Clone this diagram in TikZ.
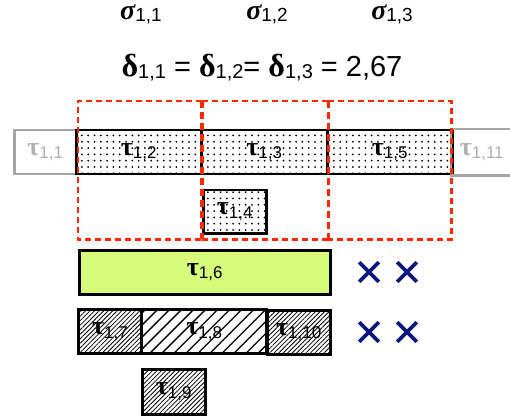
\documentclass[tikz,border=0pt]{standalone}
\usepackage{fontspec}
\setmainfont{Liberation Sans}
\newfontfamily\grk{Liberation Serif}
\usetikzlibrary{patterns.meta,shapes.misc}
\definecolor{winred}{RGB}{255,40,0}
\definecolor{lgreen}{RGB}{214,250,122}
\definecolor{navyx}{RGB}{12,24,124}
\definecolor{greyline}{RGB}{165,165,165}
\definecolor{greytext}{RGB}{175,175,175}
\newcommand\tsub[1]{\raisebox{-3.5pt}{\fontsize{17}{17}\selectfont #1}}
\newcommand\tlab[1]{{\grk\bfseries τ}\tsub{#1}}
\newcommand\slab[1]{{\fontsize{28}{28}\selectfont\grk\bfseries\itshape σ}\raisebox{-1.5pt}{\fontsize{19}{19}\selectfont #1}}
\newcommand\dlab[1]{{\fontsize{32}{32}\selectfont\grk\bfseries δ}\raisebox{-2pt}{\fontsize{20}{20}\selectfont #1}}
\tikzset{
  task/.style={draw=black, line width=2.5pt, anchor=north west, inner sep=0pt,
    minimum height=44pt, font=\fontsize{26}{26}\selectfont},
  greytask/.style={task, draw=greyline, text=greytext},
  openedge/.style={draw=greyline, line width=2.5pt},
  dottask/.style={task, pattern={Dots[distance=6.3pt, radius=1pt]}},
  finetask/.style={task, pattern={Lines[angle=45, distance=3.2pt, line width=0.8pt]}},
  widetask/.style={task, pattern={Lines[angle=45, distance=8.5pt, line width=1.3pt]}},
  greentask/.style={task, fill=lgreen},
  window/.style={anchor=north west, inner sep=0pt, minimum height=138pt},
  winline/.style={draw=winred, line width=2.2pt, dash pattern=on 6pt off 4pt},
  winmid/.style={draw=winred, line width=3.6pt, dash pattern=on 7pt off 4pt},
  crossmark/.style={cross out, draw=navyx, line width=3.6pt, minimum size=16pt, inner sep=0pt}
}
\begin{document}
\begin{tikzpicture}[x=1pt,y=-1pt]
\useasboundingbox (0,0) rectangle (510,419);
% headers
\node[anchor=base, inner sep=0pt] (s1) at (141,20) {\slab{1,1}};
\node[anchor=base, inner sep=0pt] (s2) at (267,20) {\slab{1,2}};
\node[anchor=base, inner sep=0pt] (s3) at (392,20) {\slab{1,3}};
\node[anchor=base, inner sep=0pt] (d) at (262,77) {\fontsize{29}{29}\selectfont\dlab{1,1} = \dlab{1,2}= \dlab{1,3} = 2,67};
% top row
\node[greytask, minimum width=62pt] (t11) at (13,129) {\tlab{1,1}};
\node[dottask, minimum width=125pt] (t12) at (75,129) {\tlab{1,2}};
\node[dottask, minimum width=126pt] (t13) at (200,129) {\tlab{1,3}};
\node[dottask, minimum width=125pt] (t15) at (326,129) {\tlab{1,5}};
\node[greytask, draw=none, minimum width=59pt] (t111) at (451,129) {\tlab{1,11}};
\draw[openedge] (t111.south east) -- (t111.south west) -- (t111.north west) -- (t111.north east);
\node[dottask, minimum width=63pt, minimum height=43pt] (t14) at (202,189) {\tlab{1,4}};
% windows
\node[window, minimum width=124pt] (w1) at (78,101) {};
\node[window, minimum width=126pt] (w2) at (202,101) {};
\node[window, minimum width=123pt] (w3) at (328,101) {};
\draw[winline] (w1.north east) -- (w1.north west) -- (w1.south west) -- (w1.south east);
\draw[winline] (w2.north west) -- (w2.north east);
\draw[winline] (w2.south west) -- (w2.south east);
\draw[winline] (w3.north west) -- (w3.north east) -- (w3.south east) -- (w3.south west);
\draw[winmid] (w2.north west) -- (w2.south west);
\draw[winmid] (w2.north east) -- (w2.south east);
% lower rows
\node[greentask, minimum width=251pt] (t16) at (78,249) {\tlab{1,6}};
\node[finetask, minimum width=63pt] (t17) at (78,309) {\tlab{1,7}};
\node[widetask, minimum width=125pt] (t18) at (141,309) {\tlab{1,8}};
\node[finetask, minimum width=63pt] (t110) at (266,309) {\tlab{1,10}};
\node[finetask, minimum width=63pt, minimum height=45pt] (t19) at (141,368) {\tlab{1,9}};
% crosses
\node[crossmark] (x1) at (369,272) {};
\node[crossmark] (x2) at (407,272) {};
\node[crossmark] (x3) at (369,332) {};
\node[crossmark] (x4) at (407,332) {};
\end{tikzpicture}
\end{document}
